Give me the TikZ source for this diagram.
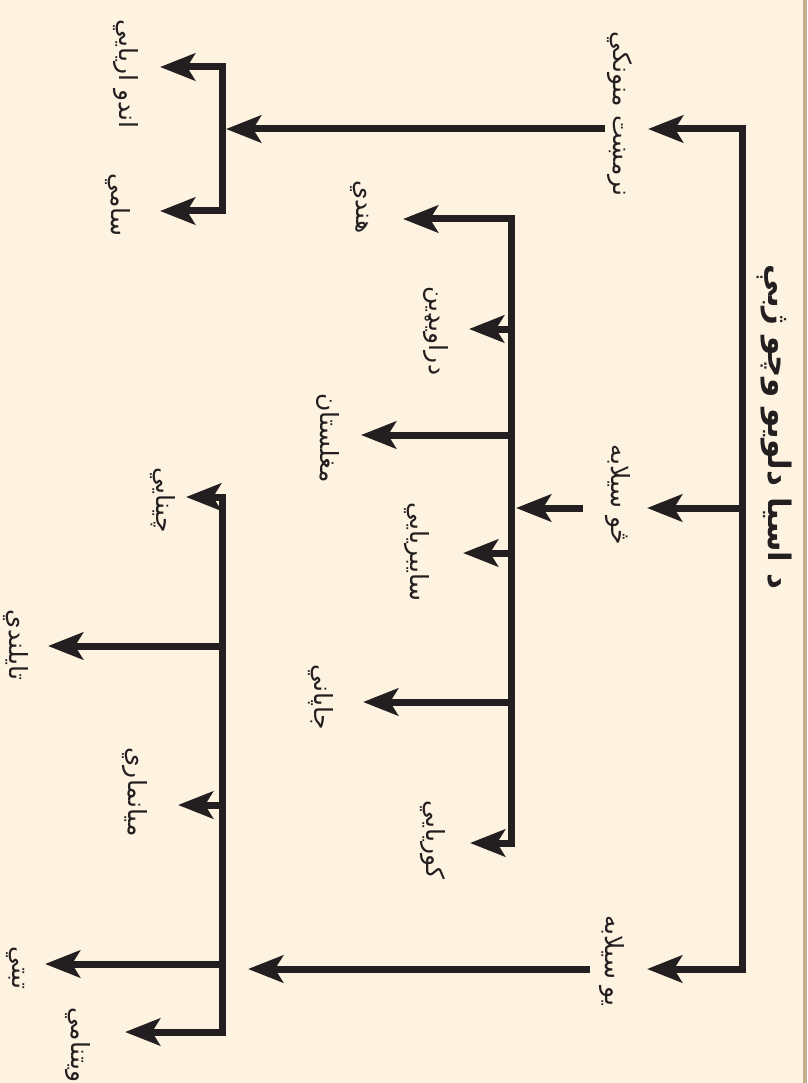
\documentclass[tikz,border=0pt]{standalone}
\usepackage{fontspec}
\newfontfamily\arabicfont[Script=Arabic]{DejaVu Sans}
\TeXXeTstate=1
\usetikzlibrary{arrows.meta}
\definecolor{paper}{HTML}{FEF3E0}
\definecolor{rim}{HTML}{C4AE8E}
\definecolor{ink}{HTML}{231F20}
\begin{document}
\begin{tikzpicture}[
  x=1pt, y=-1pt,
  lang/.style = {font=\arabicfont\fontsize{25}{29}\selectfont, text=ink,
    rotate=-90, inner sep=0pt},
  headline/.style = {font=\arabicfont\bfseries\fontsize{31}{35}\selectfont,
    text=ink, rotate=-90, inner sep=0pt},
  bar/.style = {line width=7pt, draw=ink, line cap=rect},
  arrow/.style = {-{Stealth[length=35pt,width=27pt,inset=8pt]},
    line width=7pt, draw=ink},
]
  \useasboundingbox (0,0) rectangle (807,1083);
  \clip (0,0) rectangle (807,1083);
  \fill[paper] (0,0) rectangle (807,1083);
  \fill[rim] (803,0) rectangle (807,1083);

  \node[headline] (title) at (775,427) {\beginR د اسیا دلویو وچو ژبې\endR};

  \node[lang] (infl) at (620,114) {\beginR نرمښت منونکي\endR};
  \node[lang] (poly) at (618,495) {\beginR څو سیلابه\endR};
  \node[lang] (mono) at (612,961) {\beginR یو سیلابه\endR};

  \node[lang] (indo) at (126,74) {\beginR اندو اریایي\endR};
  \node[lang] (semi) at (118,205) {\beginR سامي\endR};

  \node[lang] (hind) at (360,207) {\beginR هندي\endR};
  \node[lang] (drav) at (436,331) {\beginR دراویډین\endR};
  \node[lang] (mong) at (328,438) {\beginR مغلستان\endR};
  \node[lang] (sibe) at (417,552) {\beginR سایبریایي\endR};
  \node[lang] (japa) at (321,697) {\beginR جاپاني\endR};
  \node[lang] (kore) at (433,840) {\beginR کوریایي\endR};

  \node[lang] (chin) at (163,500) {\beginR چینایي\endR};
  \node[lang] (thai) at (16,645) {\beginR تایلندي\endR};
  \node[lang] (myan) at (135,792) {\beginR میانماري\endR};
  \node[lang] (tibe) at (16,968) {\beginR تبتي\endR};
  \node[lang] (viet) at (78,1045) {\beginR ویتنامي\endR};

  \coordinate (t1) at (742,129);
  \coordinate (t2) at (742,508);
  \coordinate (t3) at (742,969);
  \coordinate (a1) at (648,129);
  \coordinate (a2) at (647,508);
  \coordinate (a3) at (647,969);
  \coordinate (b1) at (605,129);
  \coordinate (b2) at (583,508);
  \coordinate (b3) at (590,969);

  \coordinate (g1) at (222,67);
  \coordinate (g2) at (222,211);
  \coordinate (m1) at (511,219);
  \coordinate (m2) at (511,843);
  \coordinate (k1) at (222,497);
  \coordinate (k2) at (222,1032);

  \draw[bar] (t1) -- (t3);
  \draw[bar] (g1) -- (g2);
  \draw[bar] (m1) -- (m2);
  \draw[bar] (k1) -- (k2);

  \draw[arrow] (t1) -- (a1);
  \draw[arrow] (t2) -- (a2);
  \draw[arrow] (t3) -- (a3);
  \draw[arrow] (b1) -- (226,129);
  \draw[arrow] (b2) -- (516,508);
  \draw[arrow] (b3) -- (248,969);

  \draw[arrow] (g1) -- (160,67);
  \draw[arrow] (g2) -- (160,211);

  \draw[arrow] (m1) -- (403,219);
  \draw[arrow] (511,329) -- (469,329);
  \draw[arrow] (511,435) -- (361,435);
  \draw[arrow] (511,553) -- (463,553);
  \draw[arrow] (511,702) -- (363,702);
  \draw[arrow] (m2) -- (470,843);

  \draw[arrow] (k1) -- (186,497);
  \draw[arrow] (222,646) -- (48,646);
  \draw[arrow] (222,805) -- (178,805);
  \draw[arrow] (222,964) -- (45,964);
  \draw[arrow] (k2) -- (125,1032);
\end{tikzpicture}
\end{document}
